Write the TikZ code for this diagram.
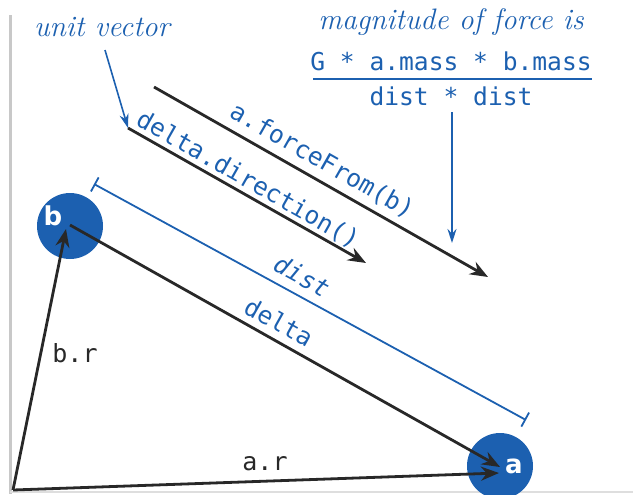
\documentclass[tikz,border=0pt]{standalone}
\usepackage{fontspec}
\newfontfamily\monofont{DejaVu Sans Mono}
\newfontfamily\labfont{DejaVu Sans}
\usetikzlibrary{arrows.meta}
\definecolor{bblue}{RGB}{28,96,176}
\definecolor{dblack}{RGB}{40,40,40}
\definecolor{frame}{RGB}{200,200,200}
\tikzset{
  vec/.style={draw=dblack, line width=1.4pt, -{Stealth[length=9pt,width=7pt]}},
  bluearrow/.style={draw=bblue, line width=0.8pt, -{Stealth[length=7pt,width=4.5pt]}},
  note/.style={text=bblue, font=\itshape\fontsize{14.8}{17}\selectfont, inner sep=0pt},
  code/.style={text=bblue, font=\monofont\fontsize{12.3}{14}\selectfont, inner sep=0pt},
  blackcode/.style={text=dblack, font=\monofont\fontsize{12.5}{14}\selectfont, inner sep=0pt},
  body/.style={circle, fill=bblue, minimum size=33pt, inner sep=0pt},
  bodylab/.style={text=white, font=\labfont\bfseries\fontsize{13}{15}\selectfont, inner sep=0pt},
}
\begin{document}
\begin{tikzpicture}[x=0.5pt,y=-0.5pt]
\useasboundingbox (0,0) rectangle (633,494);
% frame
\draw[frame, line width=1.5pt] (10,15) -- (10,494);
\draw[frame!60, line width=1pt] (10,492) -- (633,492);
% bodies
\node[body] (A) at (500,466) {};
\node[body] (B) at (70,226) {};
\node[bodylab] (alab) at (514,466) {a};
\node[bodylab] (blab) at (53,216) {b};
\coordinate (pa) at (500,467);
\coordinate (pa2) at (499,473);
\coordinate (pb) at (70,225);
\coordinate (pb2) at (66,229);
\coordinate (O) at (13,490);
% position vectors
\draw[vec] (O) -- (pb2);
\draw[vec] (O) -- (pa2);
\draw[vec] (pb) -- (pa);
\node[blackcode] (br) at (75,353) {b.r};
\node[blackcode] (ar) at (265,464) {a.r};
% dist
\coordinate (d1) at (94,184);
\coordinate (d2) at (526,420);
\draw[bblue, line width=0.9pt, {Bar[width=8pt]}-{Bar[width=8pt]}] (d1) -- (d2);
\node[code, font=\monofont\itshape\fontsize{12.3}{14}\selectfont, rotate=-28.6] (dist) at (302,276) {dist};
\node[code, rotate=-29.2] (delta) at (279,322) {delta};
% direction and force
\coordinate (u1) at (128,128);
\coordinate (u2) at (366,263);
\coordinate (f1) at (154,87);
\coordinate (f2) at (488,277);
\draw[vec] (u1) -- (u2);
\draw[vec] (f1) -- (f2);
\node[code, rotate=-29.6] (dir) at (248,180) {delta.direction()};
\node[code, rotate=-29.7] (ff) at (322,161) {a.forceFrom(b)};
% unit vector note
\node[note] (uv) at (102,27) {unit vector};
\coordinate (uvs) at (105,50);
\draw[bluearrow] (uvs) -- (u1);
% magnitude note
\node[note] (mag) at (451,22) {magnitude of force is};
\node[code] (num) at (451,61) {G * a.mass * b.mass};
\node[code] (den) at (451,96) {dist * dist};
\draw[bblue, line width=0.9pt] (313,79) -- (592,79);
\coordinate (m1) at (452,112);
\coordinate (m2) at (452,243);
\draw[bluearrow] (m1) -- (m2);
\end{tikzpicture}
\end{document}
